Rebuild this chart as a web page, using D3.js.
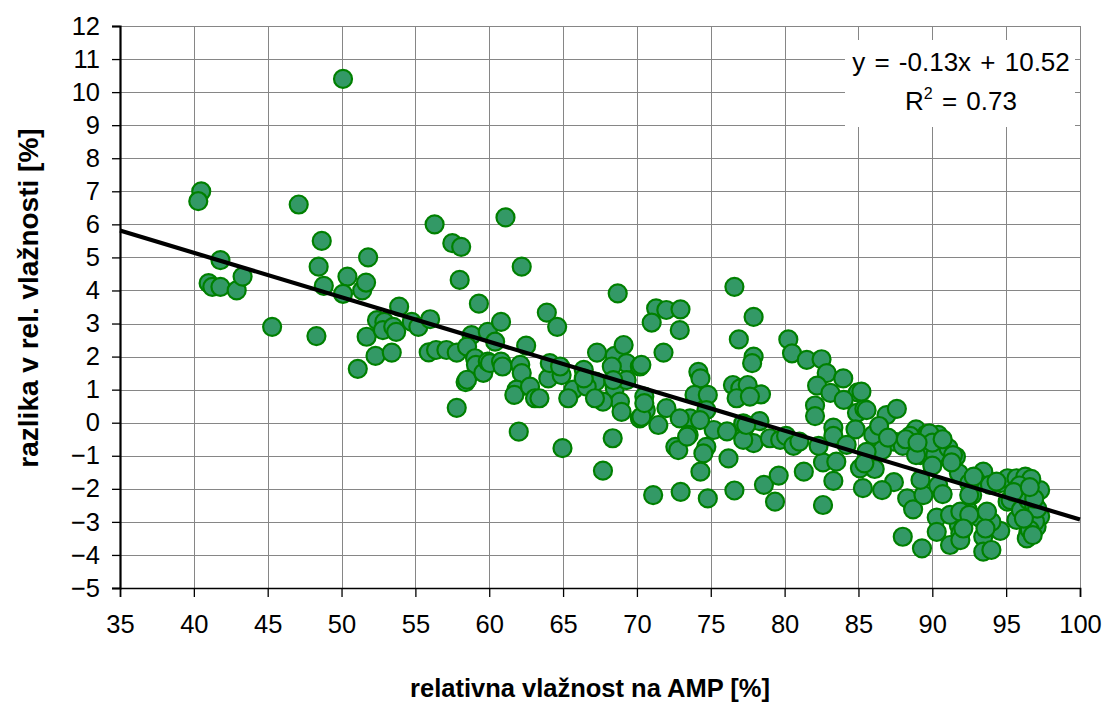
<!DOCTYPE html>
<html>
<head>
<meta charset="utf-8">
<script src="https://cdn.jsdelivr.net/npm/d3@7"></script>
<style>
  body { margin: 0; background: #fff; }
  svg { display: block; }
  text { font-family: "Liberation Sans", Arial, sans-serif; fill: #000; }
</style>
</head>
<body>
<svg id="chart" width="1103" height="702"></svg>
<script>
// Relative humidity measured at the AMP station [%]
const ampHumidity = [
  40.5, 40.3, 41.8, 41.0, 41.25, 41.8, 42.9, 43.3, 45.3, 47.1, 48.66, 48.45, 48.8, 48.3,
  50.1, 50.4, 50.1, 51.4, 51.66, 51.8, 51.1, 51.7, 52.4, 52.9, 52.8, 53.5, 53.7, 53.9, 52.3, 53.4, 54.75,
  55.2, 56.0, 55.9, 56.4, 56.3, 57.5, 58.1, 58.0, 57.1, 57.8, 58.4, 57.8, 58.8, 58.5, 59.04, 59.1, 58.5,
  59.6, 59.3, 59.9, 60.4, 59.9, 60.8, 61.1, 62.2, 60.05, 60.8, 60.9, 62.1, 62.2, 61.85, 61.7, 62.76,
  63.1, 62.5, 62.0, 63.9, 64.6, 64.0, 64.9, 64.1, 64.8, 65.7, 65.35, 63.4, 64.96,
  66.4, 67.2, 66.6, 66.4, 67.3, 68.5, 69.1, 69.3, 68.3, 70.2, 68.7, 68.5, 69.3, 68.4, 68.85, 67.7,
  67.16, 68.96, 68.36, 67.7, 70.5, 70.6, 70.2, 71.45, 72.0, 70.3, 71.3, 71.99, 71.0, 72.95, 72.9, 71.8,
  74.16, 74.3, 73.9, 74.8, 73.6, 72.9, 74.7, 73.5, 72.6, 72.8, 75.2, 74.7, 74.5, 70.3, 73.4, 71.1,
  72.96, 74.8, 74.3, 74.27, 70.5,
  76.6, 77.9, 76.9, 77.9, 77.8, 76.5, 77.0, 77.5, 76.75, 78.4, 77.65, 76.1, 77.2, 77.3, 77.9, 78.3,
  79.0, 79.7, 80.1, 76.2, 76.6, 78.6, 79.6, 79.35, 77.2, 77.4,
  80.25, 80.5, 81.5, 82.5, 82.85, 83.97, 82.2, 83.1, 84.96, 84.0, 84.9, 85.4, 82.06, 82.06, 83.3, 83.3,
  84.8, 84.2, 82.6, 83.5, 83.3, 82.6, 81.3, 80.6, 81.0, 82.3,
  85.2, 85.55, 86.9, 87.6, 86.0, 87.4, 88.0, 88.9, 89.6, 90.4, 89.3, 89.2, 90.2, 88.9, 86.6, 85.55,
  85.1, 86.1, 85.4, 87.4, 85.3, 86.6, 88.3, 88.7, 89.4, 89.2, 88.0, 89.3,
  91.1, 91.6, 91.8, 90.4, 90.7, 90.3, 90.3, 91.2, 91.8, 91.9, 92.4, 92.7, 93.45, 93.0, 93.9, 93.2,
  93.45, 93.45, 94.0, 94.6, 95.1, 95.7, 96.4, 96.7, 96.8, 95.1, 96.15, 96.95, 94.6, 95.7, 96.5, 97.3,
  97.06, 96.5, 96.4, 91.4, 92.5, 92.5, 94.35, 95.3, 96.0, 96.5, 97.3, 91.2, 91.9, 92.5, 94.0, 92.8,
  96.3, 93.7, 96.95, 96.6, 96.8, 91.9, 89.8, 88.5, 90.0, 96.7, 96.9, 97.1, 93.6, 92.1,
  88.2, 89.0, 90.7, 91.3, 90.0, 86.4, 87.0, 95.9, 96.2, 96.9, 95.5, 96.6
];

// Difference in relative humidity [%]
const humidityDiff = [
  7.0, 6.7, 4.92, 4.22, 4.11, 4.11, 4.0, 4.42, 2.9, 6.6, 5.5, 4.72, 4.14, 2.62,
  10.4, 4.42, 3.9, 4.0, 4.24, 5.0, 1.63, 2.6, 3.1, 3.05, 2.8, 2.9, 2.75, 3.51, 2.02, 2.12, 3.05,
  2.9, 3.13, 2.13, 2.2, 6.0, 5.43, 5.32, 4.32, 2.2, 2.12, 1.23, 0.45, 2.65, 2.3, 1.95, 1.75, 1.3,
  1.51, 3.6, 2.75, 2.45, 1.85, 3.05, 6.21, 4.72, 1.8, 1.85, 1.7, 1.75, 1.5, 1.0, 0.84, 1.09,
  0.74, 2.33, -0.27, 3.33, 2.9, 1.34, 1.44, 1.8, 1.7, 1.0, 0.74, 0.74, -0.77,
  1.6, 1.24, 1.09, 1.34, 2.12, 2.02, 2.35, 1.8, 1.7, 1.7, 3.91, 1.04, 1.29, 1.29, 0.64, 0.64,
  0.74, 0.33, -0.47, -1.45, 0.79, 0.38, 0.13, -0.07, 0.44, 1.75, 3.46, 3.41, 3.03, 3.43, 2.8, 2.12,
  1.54, 1.34, 0.84, 0.84, 0.13, 0.13, 0.38, -0.37, -0.73, -0.83, -0.22, -0.73, -0.93, 0.18, -0.42, -2.19,
  -2.09, -2.29, -1.48, 0.08, 0.59,
  4.11, 3.2, 2.52, 2.0, 1.8, 1.14, 1.04, 1.14, 0.74, 0.86, 0.79, -0.26, -0.02, -0.47, -0.62, 0.05,
  -0.47, -0.52, -0.4, -1.08, -2.05, -1.88, -1.6, -2.39, -0.52, -0.07,
  2.52, 2.1, 1.9, 1.92, 1.5, 1.34, 1.12, 0.9, 0.92, 0.69, 0.3, 0.42, 0.52, 0.2, -0.15, -0.4,
  -0.2, -0.67, -1.2, -1.18, -1.76, -2.49, -1.48, -0.7, -0.57, -0.7,
  0.94, 0.38, 0.23, 0.42, -0.37, -0.57, -0.7, -0.2, -0.35, -0.37, -0.52, -0.98, -0.98, -0.98, -0.83, -0.88,
  -1.38, -1.4, -1.23, -1.8, -1.98, -2.04, -2.29, -2.62, -2.19, -1.73, -3.45, -3.8,
  -0.77, -1.03, -1.53, -1.9, -2.16, -2.87, -3.3, -3.7, -3.1, -3.35, -2.64, -2.19, -1.48, -1.78, -1.88, -2.87,
  -3.45, -3.9, -3.85, -1.83, -1.68, -1.68, -1.68, -1.88, -2.13, -2.39, -2.13, -2.04, -3.27, -2.94, -2.74, -2.84,
  -3.15, -3.35, -3.5, -0.98, -1.83, -2.19, -1.78, -2.34, -2.64, -2.34, -2.04, -2.79, -2.69, -2.79, -3.0, -1.63,
  -1.63, -2.69, -2.99, -3.24, -3.4, -3.55, -0.32, -0.4, -0.6, -1.7, -2.5, -2.6, -3.2, -3.2,
  -0.5, -0.6, -0.5, -1.2, -1.3, -0.1, -0.45, -1.9, -2.9, -2.3, -2.1, -1.95
];

const xTicks = d3.range(35, 101, 5);
const yTicks = d3.range(-5, 13, 1);

// Linear trend of the series
const trendSlope = -0.1345;
const trendIntercept = 10.52;
const rSquared = 0.73;

const xTitle = "relativna vlažnost na AMP [%]";
const yTitle = "razlika v rel. vlažnosti [%]";

const svg = d3.select("#chart");
const plot = { left: 120, right: 1080, top: 26, bottom: 588 };

const x = d3.scaleLinear().domain([35, 100]).range([plot.left, plot.right]);
const y = d3.scaleLinear().domain([-5, 12]).range([plot.bottom, plot.top]);

const gridColor = "#868686";

// Grid
const grid = svg.append("g");
grid.selectAll("line.h").data(yTicks).join("line")
  .attr("x1", plot.left).attr("x2", plot.right)
  .attr("y1", d => Math.round(y(d)) + 0.5).attr("y2", d => Math.round(y(d)) + 0.5)
  .attr("stroke", gridColor).attr("stroke-width", 1);
grid.selectAll("line.v").data(xTicks).join("line")
  .attr("y1", plot.top).attr("y2", plot.bottom)
  .attr("x1", d => Math.round(x(d)) + 0.5).attr("x2", d => Math.round(x(d)) + 0.5)
  .attr("stroke", gridColor).attr("stroke-width", 1);

// Axes
const yAxis = svg.append("g")
  .attr("transform", `translate(${plot.left},0)`)
  .call(d3.axisLeft(y).tickValues(yTicks).tickSize(8).tickPadding(12).tickFormat(d3.format("d")));
const xAxis = svg.append("g")
  .attr("transform", `translate(0,${plot.bottom})`)
  .call(d3.axisBottom(x).tickValues(xTicks).tickSize(9).tickPadding(18).tickFormat(d3.format("d")));

[xAxis, yAxis].forEach(g => {
  g.selectAll("text").attr("font-size", 25.5).attr("font-family", "Liberation Sans, Arial, sans-serif").attr("fill", "#000");
  g.selectAll("line").attr("stroke", "#000").attr("stroke-width", 1.3);
  g.select(".domain").attr("stroke", "#000").attr("stroke-width", 1.6);
});
yAxis.select(".domain").attr("stroke-width", 2.2);

// Points
const points = d3.zip(ampHumidity, humidityDiff);
svg.append("g").selectAll("circle").data(points).join("circle")
  .attr("cx", d => x(d[0]))
  .attr("cy", d => y(d[1]))
  .attr("r", 9)
  .attr("fill", "#339966")
  .attr("stroke", "#008000")
  .attr("stroke-width", 2.2);

// Trend line
const trendX = [35, 100];
svg.append("line")
  .attr("x1", x(trendX[0])).attr("y1", y(trendSlope * trendX[0] + trendIntercept))
  .attr("x2", x(trendX[1])).attr("y2", y(trendSlope * trendX[1] + trendIntercept))
  .attr("stroke", "#000").attr("stroke-width", 4.2);

// Equation box
const eq = svg.append("g");
eq.append("rect").attr("x", 845).attr("y", 40).attr("width", 230).attr("height", 87).attr("fill", "#fff");
eq.append("text").attr("x", 961).attr("y", 71).attr("text-anchor", "middle").attr("font-size", 26)
  .attr("word-spacing", 2)
  .text(`y = ${trendSlope.toFixed(2)}x + ${trendIntercept.toFixed(2)}`);
const r2 = eq.append("text").attr("x", 961).attr("y", 110).attr("text-anchor", "middle").attr("font-size", 26)
  .attr("word-spacing", 2);
r2.append("tspan").text("R");
r2.append("tspan").attr("font-size", 16).attr("dy", -11).text("2");
r2.append("tspan").attr("dy", 11).text(` = ${rSquared.toFixed(2)}`);

// Axis titles
svg.append("text")
  .attr("x", 590).attr("y", 697)
  .attr("text-anchor", "middle").attr("font-size", 25.5).attr("font-weight", "bold")
  .text(xTitle);
svg.append("text")
  .attr("transform", `translate(38,298) rotate(-90)`)
  .attr("text-anchor", "middle").attr("font-size", 28).attr("font-weight", "bold")
  .text(yTitle);
</script>
</body>
</html>
